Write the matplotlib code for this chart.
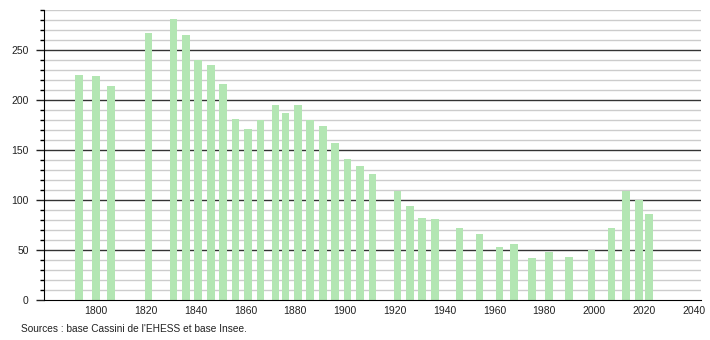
import matplotlib
matplotlib.use('Agg')
import matplotlib.pyplot as plt
import numpy as np

plt.rcParams['font.family'] = ['Liberation Sans', 'DejaVu Sans']

# Census years and population
years = [1793, 1800, 1806, 1821, 1831, 1836, 1841, 1846, 1851, 1856,
         1861, 1866, 1872, 1876, 1881, 1886, 1891, 1896, 1901, 1906,
         1911, 1921, 1926, 1931, 1936, 1946, 1954, 1962, 1968, 1975,
         1982, 1990, 1999, 2007, 2013, 2018, 2022]
population = [225, 224, 214, 267, 281, 265, 240, 235, 216, 181,
              171, 180, 195, 187, 195, 180, 174, 157, 141, 134,
              126, 109, 94, 82, 81, 72, 66, 53, 56, 42,
              48, 43, 50, 72, 109, 100, 86]

x_ticks = list(range(1800, 2041, 20))
y_ticks = list(range(0, 251, 50))
source_text = "Sources : base Cassini de l'EHESS et base Insee."

fig = plt.figure(figsize=(7.1, 3.4), dpi=100)
ax = fig.add_axes([44 / 710, 40 / 340, 657 / 710, 290 / 340])

# horizontal grid: light every 10, dark every 50
for v in range(10, 291, 10):
    if v % 50 == 0:
        ax.axhline(v, color='#333333', lw=1.0, zorder=1)
    else:
        ax.axhline(v, color='#cccccc', lw=1.0, zorder=1)

ax.bar(years, population, width=3.1, color=(0.7, 0.9, 0.7), zorder=2)

ax.set_xlim(1779, 2043)
ax.set_ylim(0, 290)

ax.set_xticks(x_ticks)
ax.set_xticklabels([str(t) for t in x_ticks])
ax.set_yticks(y_ticks)
ax.set_yticks(range(0, 291, 10), minor=True)

ax.tick_params(axis='x', length=0, pad=4, labelsize=7.5, colors='#222222')
ax.tick_params(axis='y', which='major', length=6, width=1, pad=5,
               labelsize=7.5, colors='#222222')
ax.tick_params(axis='y', which='minor', length=3, width=1)

for side in ['top', 'right']:
    ax.spines[side].set_visible(False)
ax.spines['left'].set_color('black')
ax.spines['bottom'].set_color('black')
ax.spines['left'].set_zorder(3)
ax.spines['bottom'].set_zorder(3)

fig.text(21 / 710, 1 - 329 / 340, source_text, fontsize=7.3,
         va='center', ha='left', color='#222222')

fig.savefig('out.png', dpi=100)
